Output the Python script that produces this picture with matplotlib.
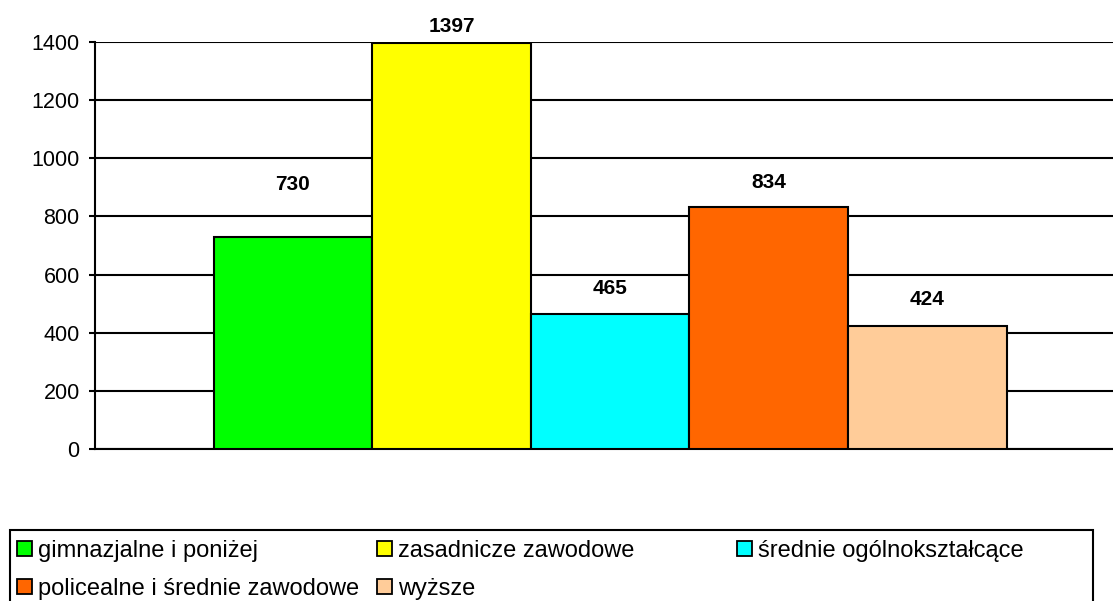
import matplotlib
matplotlib.use("Agg")
import matplotlib.pyplot as plt
from matplotlib.patches import Patch, Rectangle

plt.rcParams['font.family'] = ['Liberation Sans', 'DejaVu Sans']

categories = ["gimnazjalne i poniżej", "zasadnicze zawodowe", "średnie ogólnokształcące",
              "policealne i średnie zawodowe", "wyższe"]
values = [730, 1397, 465, 834, 424]
colors = ["#00FF00", "#FFFF00", "#00FFFF", "#FF6600", "#FFCC99"]
label_offsets_pt = [38, 12, 18, 17.5, 19]   # vertical offset of value labels (points)
yticks = [0, 200, 400, 600, 800, 1000, 1200, 1400]

W, H = 1113, 601
fig = plt.figure(figsize=(W / 100, H / 100), dpi=100)
left, right = 95 / W, 1125 / W
bottom, top = 1 - 449 / H, 1 - 42 / H
ax = fig.add_axes([left, bottom, right - left, top - bottom])

n = len(values)
bw = 158.6 / 1030
xs = [(i - (n - 1) / 2) * bw for i in range(n)]
ax.bar(xs, values, width=bw, color=colors, edgecolor="black", linewidth=1.5, zorder=3)

for x, v, off in zip(xs, values, label_offsets_pt):
    ax.annotate(str(v), (x, v), xytext=(0, off), textcoords="offset points",
                ha="center", va="center", fontsize=15, fontweight="bold", zorder=4)

ax.set_xlim(-0.5, 0.5)
ax.set_ylim(0, 1400)
ax.set_yticks(yticks)
ax.set_yticklabels([str(t) for t in yticks], fontsize=15.5)
ax.set_xticks([])
ax.yaxis.grid(True, color="black", linewidth=1.5, zorder=0)
ax.set_axisbelow(True)
for s in ["top", "right"]:
    ax.spines[s].set_visible(False)
ax.spines["left"].set_linewidth(1.5)
ax.spines["bottom"].set_linewidth(1.5)
ax.tick_params(axis="y", length=4.5, width=1.5, pad=6.5)

# legend: three fixed-width columns, filled row-wise
col_x_px = [17, 377, 737]
ncol = 3
for c, xpx in enumerate(col_x_px):
    idx = list(range(c, len(categories), ncol))
    handles = [Patch(facecolor=colors[i], edgecolor="black", linewidth=1.3) for i in idx]
    labels = [categories[i] for i in idx]
    fig.legend(handles, labels, loc="upper left",
               bbox_to_anchor=(xpx / W, 1 - 540 / H),
               ncol=1, fontsize=17, frameon=False,
               handlelength=0.62, handleheight=0.62,
               handletextpad=0.25, borderpad=0.0, labelspacing=0.66,
               borderaxespad=0)
fig.add_artist(Rectangle((10 / W, 1 - 620 / H), (1093 - 10) / W, (620 - 530) / H,
                         transform=fig.transFigure, fill=False, edgecolor="black",
                         linewidth=1.5))

fig.savefig("out.png", dpi=100)
